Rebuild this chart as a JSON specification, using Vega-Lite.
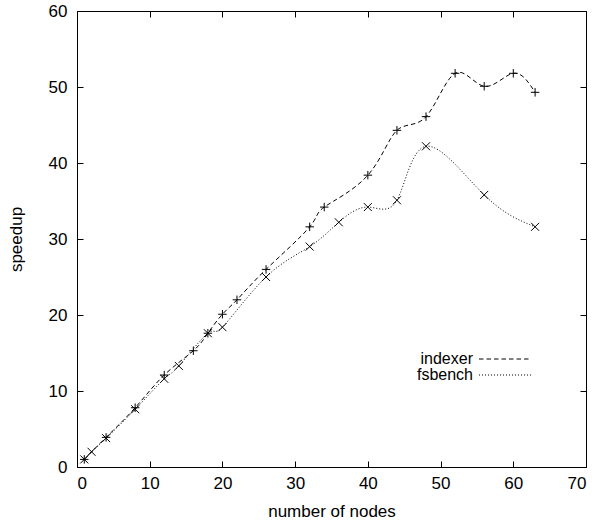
{
  "$schema": "https://vega.github.io/schema/vega-lite/v6.json",
  "autosize": {"type": "none"},
  "padding": {"left": 77, "top": 11, "right": 11, "bottom": 53},
  "width": 509,
  "height": 456,
  "background": "white",
  "config": {
    "view": {"stroke": "black", "strokeWidth": 1},
    "font": "Liberation Sans",
    "axis": {
      "grid": false,
      "domain": false,
      "tickSize": -6,
      "tickColor": "black",
      "tickWidth": 1,
      "labelFont": "Liberation Sans",
      "labelFontSize": 17,
      "labelColor": "black",
      "titleFont": "Liberation Sans",
      "titleFontSize": 17,
      "titleFontWeight": "normal",
      "titleColor": "black"
    },
    "legend": {
      "orient": "none",
      "legendX": 420,
      "legendY": 340,
      "title": null,
      "padding": 0,
      "rowPadding": 0,
      "symbolType": "M-5,0L5,0",
      "symbolSize": 108,
      "symbolStrokeColor": "black",
      "symbolStrokeWidth": 1,
      "labelAlign": "right",
      "labelOffset": -40,
      "labelFont": "Liberation Sans",
      "labelFontSize": 16,
      "labelColor": "black"
    }
  },
  "data": {
    "values": [
      {"series": "indexer", "nodes": 1, "speedup": 1.0},
      {"series": "indexer", "nodes": 4, "speedup": 3.9},
      {"series": "indexer", "nodes": 8, "speedup": 7.8},
      {"series": "indexer", "nodes": 12, "speedup": 12.1},
      {"series": "indexer", "nodes": 16, "speedup": 15.3},
      {"series": "indexer", "nodes": 18, "speedup": 17.6},
      {"series": "indexer", "nodes": 20, "speedup": 20.1},
      {"series": "indexer", "nodes": 22, "speedup": 22.0},
      {"series": "indexer", "nodes": 26, "speedup": 26.0},
      {"series": "indexer", "nodes": 32, "speedup": 31.6},
      {"series": "indexer", "nodes": 34, "speedup": 34.2},
      {"series": "indexer", "nodes": 40, "speedup": 38.4},
      {"series": "indexer", "nodes": 44, "speedup": 44.3},
      {"series": "indexer", "nodes": 48, "speedup": 46.1},
      {"series": "indexer", "nodes": 52, "speedup": 51.8},
      {"series": "indexer", "nodes": 56, "speedup": 50.1},
      {"series": "indexer", "nodes": 60, "speedup": 51.8},
      {"series": "indexer", "nodes": 63, "speedup": 49.3},
      {"series": "fsbench", "nodes": 1, "speedup": 1.0},
      {"series": "fsbench", "nodes": 2, "speedup": 2.0},
      {"series": "fsbench", "nodes": 4, "speedup": 3.8},
      {"series": "fsbench", "nodes": 8, "speedup": 7.6},
      {"series": "fsbench", "nodes": 12, "speedup": 11.6},
      {"series": "fsbench", "nodes": 14, "speedup": 13.3},
      {"series": "fsbench", "nodes": 18, "speedup": 17.6},
      {"series": "fsbench", "nodes": 20, "speedup": 18.4},
      {"series": "fsbench", "nodes": 26, "speedup": 25.0},
      {"series": "fsbench", "nodes": 32, "speedup": 29.0},
      {"series": "fsbench", "nodes": 36, "speedup": 32.2},
      {"series": "fsbench", "nodes": 40, "speedup": 34.2},
      {"series": "fsbench", "nodes": 44, "speedup": 35.1},
      {"series": "fsbench", "nodes": 48, "speedup": 42.2},
      {"series": "fsbench", "nodes": 56, "speedup": 35.8},
      {"series": "fsbench", "nodes": 63, "speedup": 31.6}
    ]
  },
  "layer": [
    {
      "mark": {"type": "line", "interpolate": "natural", "color": "black", "strokeWidth": 1},
      "encoding": {
        "x": {"field": "nodes", "type": "quantitative", "scale": {"domain": [0, 70], "nice": false},
              "axis": {"orient": "bottom", "title": "number of nodes", "values": [0,10,20,30,40,50,60,70], "labelPadding": 14, "titlePadding": 12}},
        "y": {"field": "speedup", "type": "quantitative", "scale": {"domain": [0, 60], "nice": false},
              "axis": {"orient": "left", "title": "speedup", "values": [0,10,20,30,40,50,60], "labelPadding": 16, "titlePadding": 23}},
        "strokeDash": {"field": "series", "type": "nominal",
                       "scale": {"domain": ["indexer", "fsbench"], "range": [[4.5, 3], [1, 2]]}}
      }
    },
    {
      "transform": [{"filter": "datum.series === 'indexer'"}],
      "mark": {"type": "point", "shape": "M-1,0L1,0M0,-1L0,1", "filled": false, "color": "black", "strokeWidth": 1, "size": 72, "opacity": 1},
      "encoding": {
        "x": {"field": "nodes", "type": "quantitative",
              "axis": {"orient": "top", "title": null, "labels": false, "values": [0,10,20,30,40,50,60,70]}},
        "y": {"field": "speedup", "type": "quantitative",
              "axis": {"orient": "right", "title": null, "labels": false, "values": [0,10,20,30,40,50,60]}}
      }
    },
    {
      "transform": [{"filter": "datum.series === 'fsbench'"}],
      "mark": {"type": "point", "shape": "M-1,-1L1,1M-1,1L1,-1", "filled": false, "color": "black", "strokeWidth": 1, "size": 64, "opacity": 1},
      "encoding": {
        "x": {"field": "nodes", "type": "quantitative", "axis": null},
        "y": {"field": "speedup", "type": "quantitative", "axis": null}
      }
    }
  ],
  "resolve": {"axis": {"x": "independent", "y": "independent"}}
}
